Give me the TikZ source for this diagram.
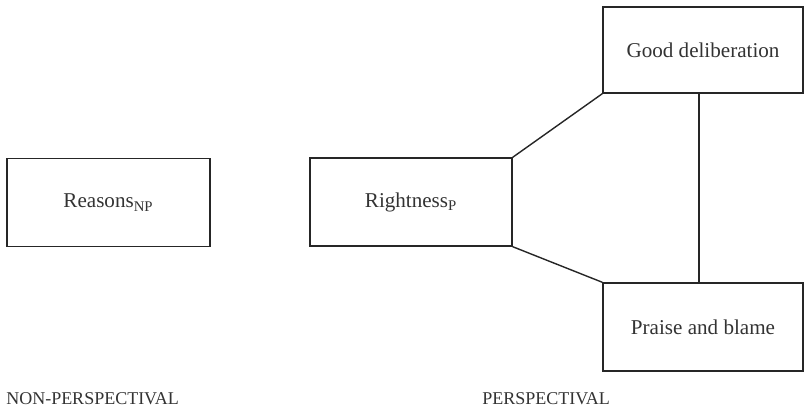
\documentclass[tikz,border=0pt]{standalone}
\usepackage{fontspec}
\setmainfont{Liberation Serif}
\begin{document}
\begin{tikzpicture}[
	box/.style = {draw = black!85, line width = 1pt, minimum width = 5cm, minimum height = 2.2cm, inner sep = 0, text = black!80, font = \fontsize{15}{18}\selectfont},
	side/.style = {anchor = base west, inner sep = 0, text = black!80, font = \fontsize{12.8}{15}\selectfont},
	link/.style = {draw = black!85, line width = 1pt}]
	\useasboundingbox (0, 0) rectangle (20.125, 10.225);
	\node [box, minimum width = 5.075cm] (reasons) at (2.71, 5.16) {Reasons\textsubscript{NP}};
	\node [box, minimum width = 5.05cm] (rightness) at (10.275, 5.175) {Rightness\textsubscript{P}};
	\node [box, minimum height = 2.15cm] (good) at (17.575, 8.975) {Good deliberation};
	\node [box] (praise) at (17.575, 2.05) {Praise and blame};
	\draw [link] (rightness.north east) -- (good.south west);
	\draw [link] (rightness.south east) -- (praise.north west);
	\draw [link] ([xshift = -.1cm]good.south) -- ([xshift = -.1cm]praise.north);
	\node [side] (nonpersp) at (.15, .1) {NON-PERSPECTIVAL};
	\node [side] (persp) at (12.05, .1) {PERSPECTIVAL};
\end{tikzpicture}
\end{document}
